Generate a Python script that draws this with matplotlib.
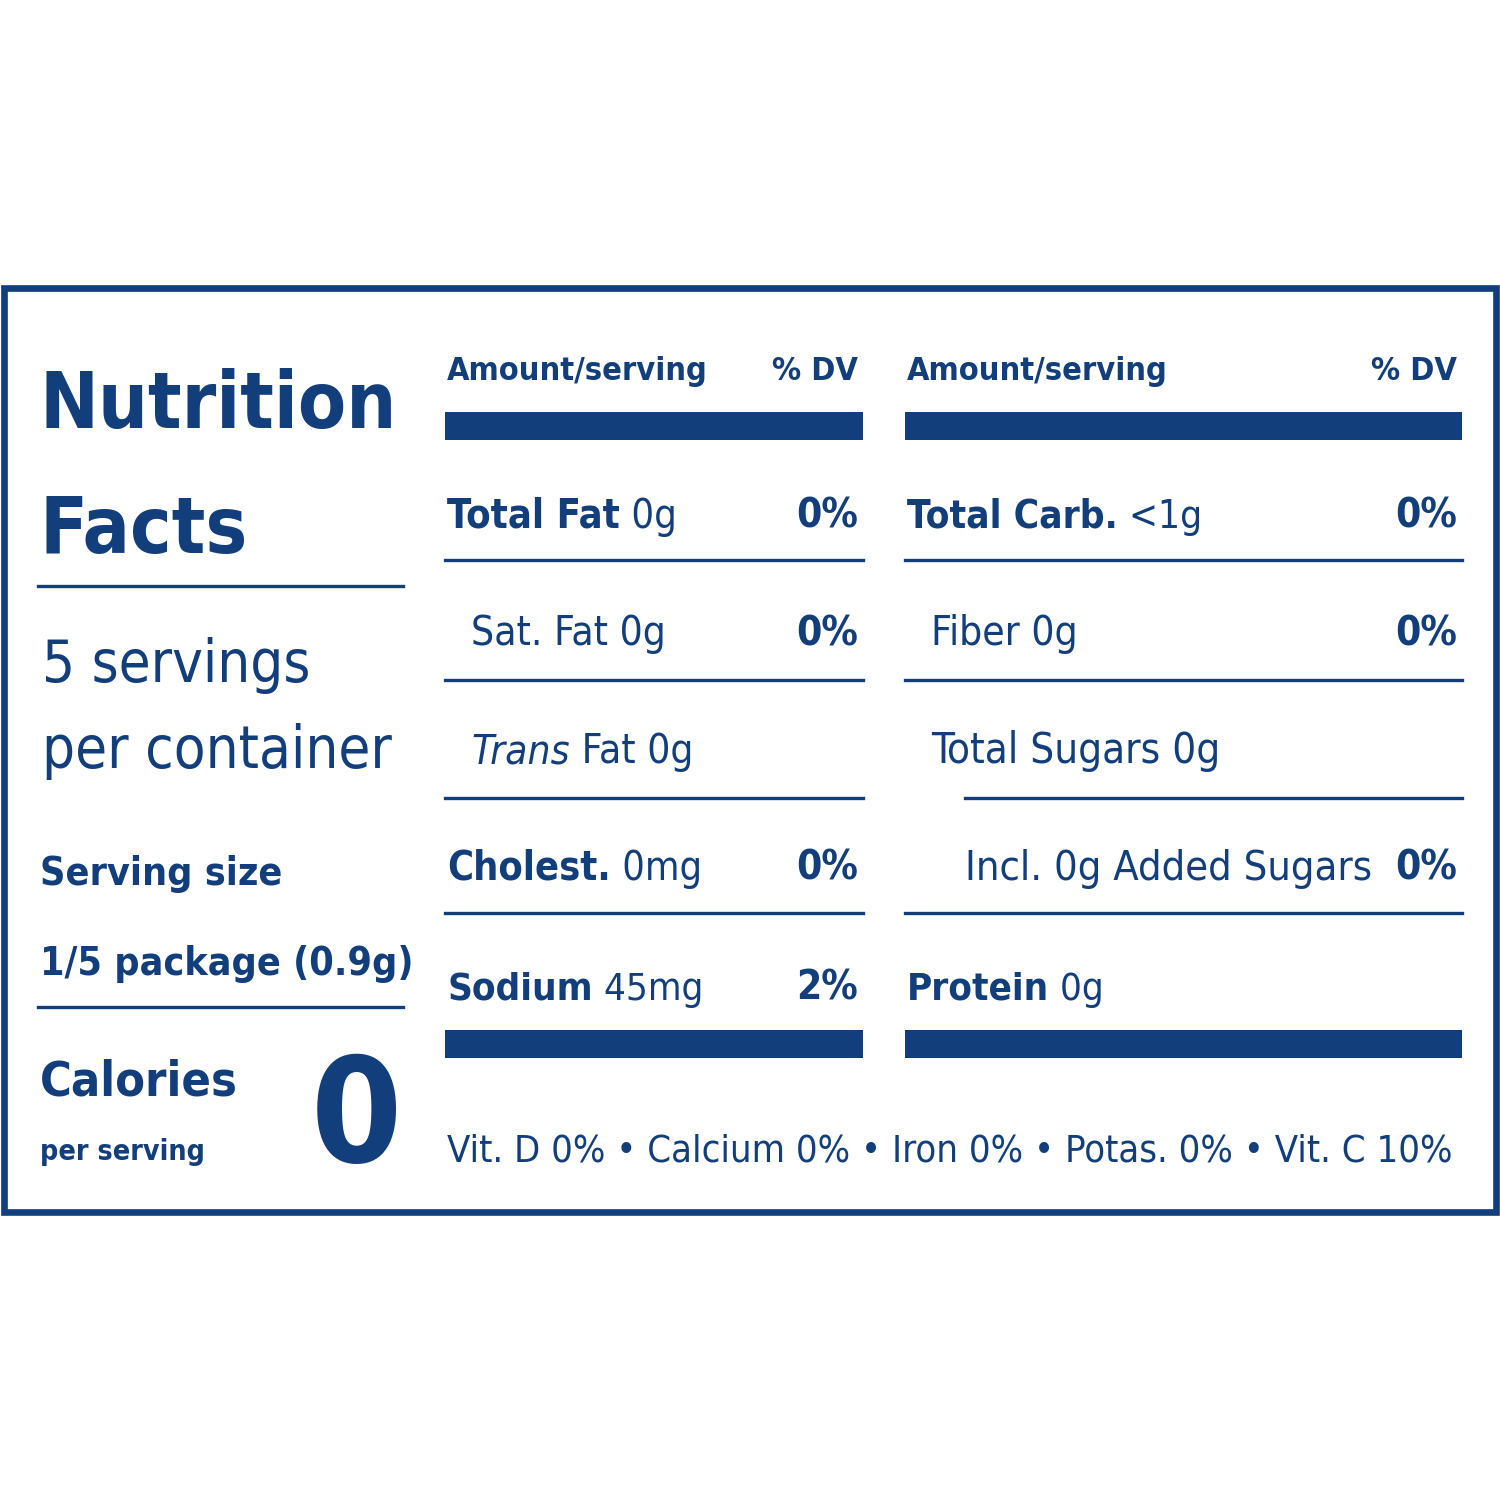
import matplotlib.pyplot as plt
from matplotlib.patches import Rectangle

plt.rcParams['font.family'] = ['DejaVu Sans']
plt.rcParams['font.stretch'] = 'condensed'
BLUE = "#123f7c"

left_rows = [("Total Fat", " 0g", "0%", 0), ("Sat. Fat 0g", "", "0%", 1),
             ("Trans", " Fat 0g", "", 1), ("Cholest.", " 0mg", "0%", 0),
             ("Sodium", " 45mg", "2%", 0)]
left_widths = [230, 195, 222, 255, 256]
right_rows = [("Total Carb.", " <1g", "0%", 0), ("Fiber 0g", "", "0%", 1),
              ("Total Sugars 0g", "", "", 1), ("Incl. 0g Added Sugars", "", "0%", 2),
              ("Protein", " 0g", "", 0)]
right_widths = [295, 147, 290, 407, 197]
footer = "Vit. D 0% \u2022 Calcium 0% \u2022 Iron 0% \u2022 Potas. 0% \u2022 Vit. C 10%"

fig = plt.figure(figsize=(10, 10), dpi=150)
ax = fig.add_axes([0, 0, 1, 1])
ax.set_xlim(0, 1500)
ax.set_ylim(1500, 0)
ax.axis("off")
renderer = fig.canvas.get_renderer()

ax.add_patch(Rectangle((4, 288), 1492, 924, fill=False, ec=BLUE, lw=3.2))

def t(x, y, s, size, bold=False, ha="left", italic=False):
    return ax.text(x, y, s, fontsize=size, color=BLUE, ha=ha, va="baseline",
                   fontweight="bold" if bold else "normal",
                   fontstyle="italic" if italic else "normal")

def width(txt):
    bb = txt.get_window_extent(renderer).transformed(ax.transData.inverted())
    return bb.x1 - bb.x0, bb.x1

def fit_size(s, w, bold=False):
    tmp = t(0, 0, s, 100, bold)
    tw, _ = width(tmp)
    tmp.remove()
    return 100 * w / tw

def pair(x, y, a, b, w, bold_a, italic_a=False):
    # label (maybe bold) followed by regular value, fitted to width w
    ta = t(x, y, a, 100, bold_a, italic=italic_a)
    tb = t(0, y, b, 100) if b else None
    wa, _ = width(ta)
    wb = width(tb)[0] if tb else 0
    size = 100 * w / (wa + wb)
    ta.set_fontsize(size)
    if tb:
        tb.set_fontsize(size)
        tb.set_x(width(ta)[1])

# left panel
s = fit_size("Nutrition", 358, True)
t(40, 428, "Nutrition", s, True)
t(40, 553, "Facts", s, True)
ax.plot([38, 403], [586, 586], color=BLUE, lw=1.6)
s = fit_size("per container", 350)
t(42, 682, "5 servings", s)
t(42, 768, "per container", s)
s = fit_size("1/5 package (0.9g)", 373, True)
t(40, 885, "Serving size", s, True)
t(40, 975, "1/5 package (0.9g)", s, True)
ax.plot([38, 403], [1007, 1007], color=BLUE, lw=1.6)
t(40, 1095, "Calories", fit_size("Calories", 198, True), True)
t(40, 1160, "per serving", fit_size("per serving", 165, True), True)
t(402, 1162, "0", 70, True, ha="right")

row_y = [528, 645, 763, 880, 1000]
line_y = [560, 680, 798, 913]
hdr = fit_size("Amount/serving", 261, True)
dv_size = fit_size("0%", 62, True)

def column(x0, x1, rows, widths, indent_line):
    t(x0 + 2, 380, "Amount/serving", hdr, True)
    t(x1 - 5, 380, "% DV", hdr, True, ha="right")
    ax.add_patch(Rectangle((x0, 412), x1 - x0, 28, color=BLUE, lw=0))
    ax.add_patch(Rectangle((x0, 1030), x1 - x0, 28, color=BLUE, lw=0))
    for y, (a, b, dv, ind), w in zip(row_y, rows, widths):
        xs = x0 + 2 + [0, 24, 58][ind]
        pair(xs, y, a, b, w, ind == 0, italic_a=(a == "Trans"))
        if dv:
            t(x1 - 5, y, dv, dv_size, True, ha="right")
    for j, y in enumerate(line_y):
        xs = x0 + (60 if (indent_line and j == 2) else 0)
        ax.plot([xs, x1], [y, y], color=BLUE, lw=1.6)

column(445, 863, left_rows, left_widths, False)
column(905, 1462, right_rows, right_widths, True)

t(447, 1162, footer, fit_size(footer, 1008))

fig.savefig("out.png", dpi=150, facecolor="white")
